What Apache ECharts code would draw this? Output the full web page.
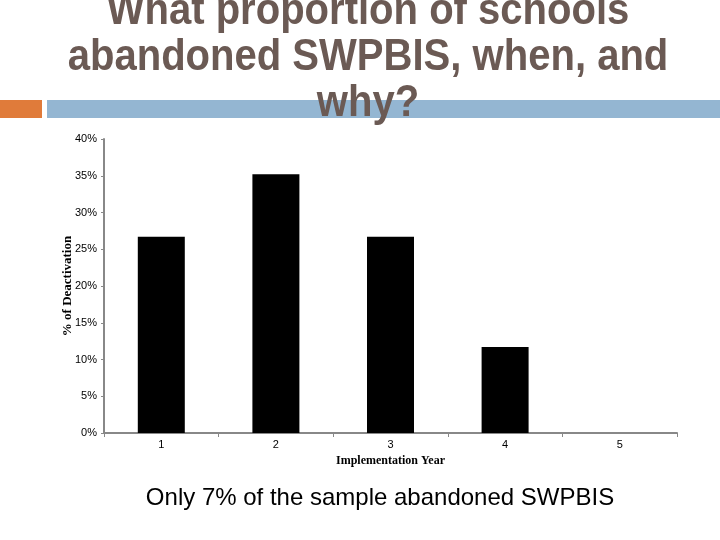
<!DOCTYPE html>
<html><head><meta charset="utf-8">
<script src="https://cdn.jsdelivr.net/npm/echarts@6/dist/echarts.min.js"></script>
<style>html,body{margin:0;padding:0;background:#fff}#c{width:720px;height:540px}</style>
</head><body><div id="c"></div>
<script>
var categories = ['1', '2', '3', '4', '5'];
var deactivationPct = [26.7, 35.2, 26.7, 11.7, 0];
var yTicks = [0, 5, 10, 15, 20, 25, 30, 35, 40];
var titleLines = ['What proportion of schools', 'abandoned SWPBIS, when, and', 'why?'];
var footnote = 'Only 7% of the sample abandoned SWPBIS';

var chart = echarts.init(document.getElementById('c'), null, {renderer: 'canvas'});
chart.setOption({
  animation: false,
  backgroundColor: '#fff',
  grid: {left: 104, right: 43, top: 139, bottom: 107, containLabel: false},
  xAxis: {
    type: 'category', data: categories,
    name: 'Implementation Year', nameLocation: 'middle', nameGap: 21,
    nameTextStyle: {fontFamily: 'Liberation Serif', fontWeight: 'bold', fontSize: 12, color: '#000'},
    axisLine: {lineStyle: {color: '#888', width: 2}},
    axisTick: {show: true, length: 4, lineStyle: {color: '#888'}},
    axisLabel: {fontFamily: 'Liberation Sans', fontSize: 11, color: '#000', margin: 6}
  },
  yAxis: {
    type: 'value', min: 0, max: 40, interval: 5,
    name: '% of Deactivation', nameLocation: 'middle', nameGap: 30, nameRotate: 90,
    nameMoveOverlap: false,
    nameTextStyle: {fontFamily: 'Liberation Serif', fontWeight: 'bold', fontSize: 13, color: '#000'},
    axisLine: {show: true, lineStyle: {color: '#888', width: 2}},
    axisTick: {show: true, length: 3, lineStyle: {color: '#888'}},
    splitLine: {show: false},
    axisLabel: {fontFamily: 'Liberation Sans', fontSize: 11, color: '#000', margin: 7,
      formatter: function (v) { return yTicks.indexOf(v) >= 0 ? v + '%' : ''; }}
  },
  series: [{
    type: 'bar', data: deactivationPct, barWidth: 47,
    itemStyle: {color: '#000'}
  }],
  graphic: [
    {type: 'rect', shape: {x: 0, y: 100, width: 42, height: 18}, style: {fill: '#e07b3a'}, z: 1},
    {type: 'rect', shape: {x: 47, y: 100, width: 673, height: 18}, style: {fill: '#94b6d2'}, z: 1},
    {type: 'text', x: 368, y: -11, scaleX: 0.91, z: 10, style: {
      text: titleLines.join('\n'), textAlign: 'center', textVerticalAlign: 'top',
      font: 'bold 44px "Liberation Sans", Arial, sans-serif', lineHeight: 46, fill: '#6b5a54'}},
    {type: 'text', x: 380, y: 498, z: 10, style: {
      text: footnote, textAlign: 'center', textVerticalAlign: 'middle',
      font: '24px "Liberation Sans", Arial, sans-serif', fill: '#000'}}
  ]
});
</script></body></html>
